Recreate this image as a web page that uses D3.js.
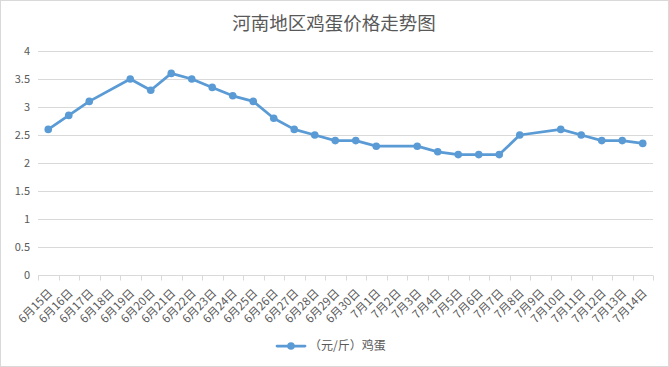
<!DOCTYPE html>
<html><head><meta charset="utf-8">
<script src="https://cdn.jsdelivr.net/npm/d3@7"></script>
<style>
html,body{margin:0;padding:0;background:#fff;}
svg{display:block;font-family:"Microsoft YaHei","Noto Sans CJK SC",sans-serif;}
</style></head>
<body><svg id="c" width="669" height="367"></svg>
<script>
const categories = ["6月15日","6月16日","6月17日","6月18日","6月19日","6月20日","6月21日","6月22日","6月23日","6月24日","6月25日","6月26日","6月27日","6月28日","6月29日","6月30日","7月1日","7月2日","7月3日","7月4日","7月5日","7月6日","7月7日","7月8日","7月9日","7月10日","7月11日","7月12日","7月13日","7月14日"];
const eggPrice = [2.6,2.85,3.1,null,3.5,3.3,3.6,3.5,3.35,3.2,3.1,2.8,2.6,2.5,2.4,2.4,2.3,null,2.3,2.2,2.15,2.15,2.15,2.5,null,2.6,2.5,2.4,2.4,2.35];
const yTicks = [0,0.5,1,1.5,2,2.5,3,3.5,4];
const title = "河南地区鸡蛋价格走势图";
const seriesName = "（元/斤）鸡蛋";

(function(){
const W = 669, H = 367;
const svg = d3.select("#c");
const color = "#5b9bd5", textColor = "#595959", grid = "#d9d9d9";

svg.append("rect").attr("x",0.5).attr("y",0.5).attr("width",W-1).attr("height",H-1)
  .attr("fill","#fff").attr("stroke","#d9d9d9");

const pl = 38, pr = 653, pt = 51, pb = 275;
const x = d3.scaleBand().domain(categories).range([pl, pr]);
const y = d3.scaleLinear().domain([0,4]).range([pb, pt]);

svg.append("text").attr("x", 334).attr("y", 30).attr("text-anchor","middle")
  .attr("font-size", 18.5).attr("fill", textColor).text(title);

// gridlines
svg.append("g").selectAll("line").data(yTicks.filter(d=>d>0)).join("line")
  .attr("x1", pl).attr("x2", pr)
  .attr("y1", d=>Math.round(y(d))+0.5).attr("y2", d=>Math.round(y(d))+0.5)
  .attr("stroke", grid).attr("stroke-width",1);

// y labels
svg.append("g").selectAll("text").data(yTicks).join("text")
  .attr("x", 30).attr("y", d=>y(d)).attr("dy","0.35em").attr("text-anchor","end")
  .attr("font-size", 11).attr("fill", textColor).text(d=>d);

// x axis
const xAxis = d3.axisBottom(x).tickSize(0).tickFormat(()=>"");
const gx = svg.append("g").attr("transform",`translate(0,${Math.round(pb)+0.5})`).call(xAxis);
gx.select(".domain").attr("stroke", grid).attr("d", `M${pl},0H${pr}`);
const bounds = categories.map(c=>x(c)).concat([pr]);
gx.selectAll(".tk").data(bounds).join("line").attr("class","tk")
  .attr("x1", d=>Math.round(d)+0.5).attr("x2", d=>Math.round(d)+0.5)
  .attr("y1",0).attr("y2",5).attr("stroke", grid);

svg.append("g").selectAll("text").data(categories).join("text")
  .attr("transform", d=>`translate(${x(d)+x.bandwidth()/2+2},${pb+16}) rotate(-45)`)
  .attr("text-anchor","end").attr("dy","0.35em")
  .attr("font-size", 11.5).attr("fill", textColor).text(d=>d);

// line
const pts = categories.map((c,i)=>({c, v: eggPrice[i]})).filter(d=>d.v!=null);
const line = d3.line().x(d=>x(d.c)+x.bandwidth()/2).y(d=>y(d.v));
svg.append("path").datum(pts).attr("d", line).attr("fill","none")
  .attr("stroke", color).attr("stroke-width", 2.75).attr("stroke-linejoin","round").attr("stroke-linecap","round");
svg.append("g").selectAll("circle").data(pts).join("circle")
  .attr("cx", d=>x(d.c)+x.bandwidth()/2).attr("cy", d=>y(d.v)).attr("r", 3.8).attr("fill", color);

// legend
const lg = svg.append("g");
lg.append("line").attr("x1",277).attr("x2",305).attr("y1",346).attr("y2",346)
  .attr("stroke", color).attr("stroke-width",2.75).attr("stroke-linecap","round");
lg.append("circle").attr("cx",291).attr("cy",346).attr("r",3.8).attr("fill",color);
lg.append("text").attr("x",309).attr("y",346).attr("dy","0.35em").attr("font-size",12)
  .attr("fill", textColor).text(seriesName);
})();
</script></body></html>
